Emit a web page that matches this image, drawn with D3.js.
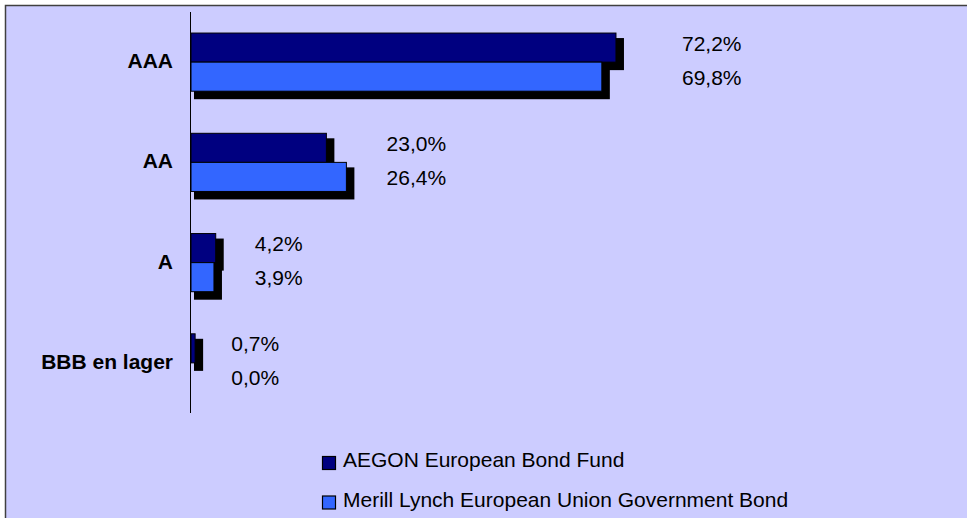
<!DOCTYPE html>
<html>
<head>
<meta charset="utf-8">
<script src="https://cdn.jsdelivr.net/npm/d3@7"></script>
<style>
  html, body { margin: 0; padding: 0; background: #ffffff; }
  svg { display: block; font-family: "Liberation Sans", Arial, sans-serif; }
</style>
</head>
<body>
<svg id="chart" width="967" height="518"></svg>
<script>
// Credit rating breakdown: fund vs. benchmark (percent of portfolio)
const categories = ["AAA", "AA", "A", "BBB en lager"];
const seriesNames = ["AEGON European Bond Fund", "Merill Lynch European Union Government Bond"];
const fundValues = [72.2, 23.0, 4.2, 0.7];
const benchmarkValues = [69.8, 26.4, 3.9, 0.0];
const seriesColors = ["#000080", "#3366FF"];

const svg = d3.select("#chart");
const W = 967, H = 518;

// panel background with frame
svg.append("rect")
  .attr("x", 5.5).attr("y", 5.5)
  .attr("width", W + 10).attr("height", H + 10)
  .attr("fill", "#CCCCFF")
  .attr("stroke", "#404040")
  .attr("stroke-width", 1.5);

const plot = { left: 190, top: 12, bottom: 413 };

const x = d3.scaleLinear().domain([0, 100]).range([plot.left + 1, 779.6]);
// the pair of value labels of a category sits beyond the pair's mean length
const labelX = d3.scaleLinear().domain([0, 100]).range([229, 867]);

const y = d3.scaleBand()
  .domain(categories)
  .range([plot.top, plot.bottom])
  .paddingInner(0.42)
  .paddingOuter(0.21);

const ySeries = d3.scaleBand()
  .domain([0, 1])
  .range([0, y.bandwidth()]);

const rows = categories.map((c, i) => {
  const vals = [fundValues[i], benchmarkValues[i]];
  const mean = d3.mean(vals);
  return { cat: c, bars: vals.map((v, s) => ({ cat: c, s, v, mean })) };
});

const fmt = v => d3.format(".1f")(v).replace(".", ",") + "%";

const groups = svg.append("g").selectAll("g.cat")
  .data(rows)
  .join("g")
  .attr("class", "cat")
  .attr("transform", d => `translate(0,${y(d.cat)})`);

// drop shadows first, underneath all bars of the group
groups.selectAll("rect.shadow")
  .data(d => d.bars.filter(b => b.v > 0))
  .join("rect")
  .attr("class", "shadow")
  .attr("x", d => x(0) + 3)
  .attr("y", d => ySeries(d.s) + 5)
  .attr("width", d => x(d.v) - x(0) + 5)
  .attr("height", ySeries.bandwidth() + 3)
  .attr("fill", "#000000");

groups.selectAll("rect.bar")
  .data(d => d.bars.filter(b => b.v > 0))
  .join("rect")
  .attr("class", "bar")
  .attr("x", x(0))
  .attr("y", d => ySeries(d.s))
  .attr("width", d => x(d.v) - x(0))
  .attr("height", ySeries.bandwidth())
  .attr("fill", d => seriesColors[d.s])
  .attr("stroke", "#000000")
  .attr("stroke-width", 1);

groups.selectAll("text.val")
  .data(d => d.bars)
  .join("text")
  .attr("class", "val")
  .attr("x", d => labelX(d.mean))
  .attr("y", d => ySeries(d.s) + ySeries.bandwidth() / 2 + (d.s === 0 ? 3 : 8))
  .attr("font-size", 21)
  .attr("fill", "#000000")
  .text(d => fmt(d.v));

// category axis line
svg.append("line")
  .attr("x1", plot.left + 0.5).attr("x2", plot.left + 0.5)
  .attr("y1", plot.top).attr("y2", plot.bottom)
  .attr("stroke", "#000000")
  .attr("stroke-width", 1);

svg.append("g").selectAll("text")
  .data(categories)
  .join("text")
  .attr("x", 173)
  .attr("y", d => y(d) + y.bandwidth() / 2 + 6)
  .attr("text-anchor", "end")
  .attr("font-size", 21)
  .attr("font-weight", "bold")
  .attr("fill", "#000000")
  .text(d => d);

// legend
const legend = svg.append("g").attr("transform", "translate(322,456)");
const item = legend.selectAll("g")
  .data(seriesNames)
  .join("g")
  .attr("transform", (d, i) => `translate(0,${i * 39.5})`);
item.append("rect")
  .attr("x", 0.5).attr("y", 0.5)
  .attr("width", 13).attr("height", 13)
  .attr("fill", (d, i) => seriesColors[i])
  .attr("stroke", "#000000")
  .attr("stroke-width", 1.2);
item.append("text")
  .attr("x", 21)
  .attr("y", 11)
  .attr("font-size", 21)
  .attr("fill", "#000000")
  .text(d => d);
</script>
</body>
</html>
